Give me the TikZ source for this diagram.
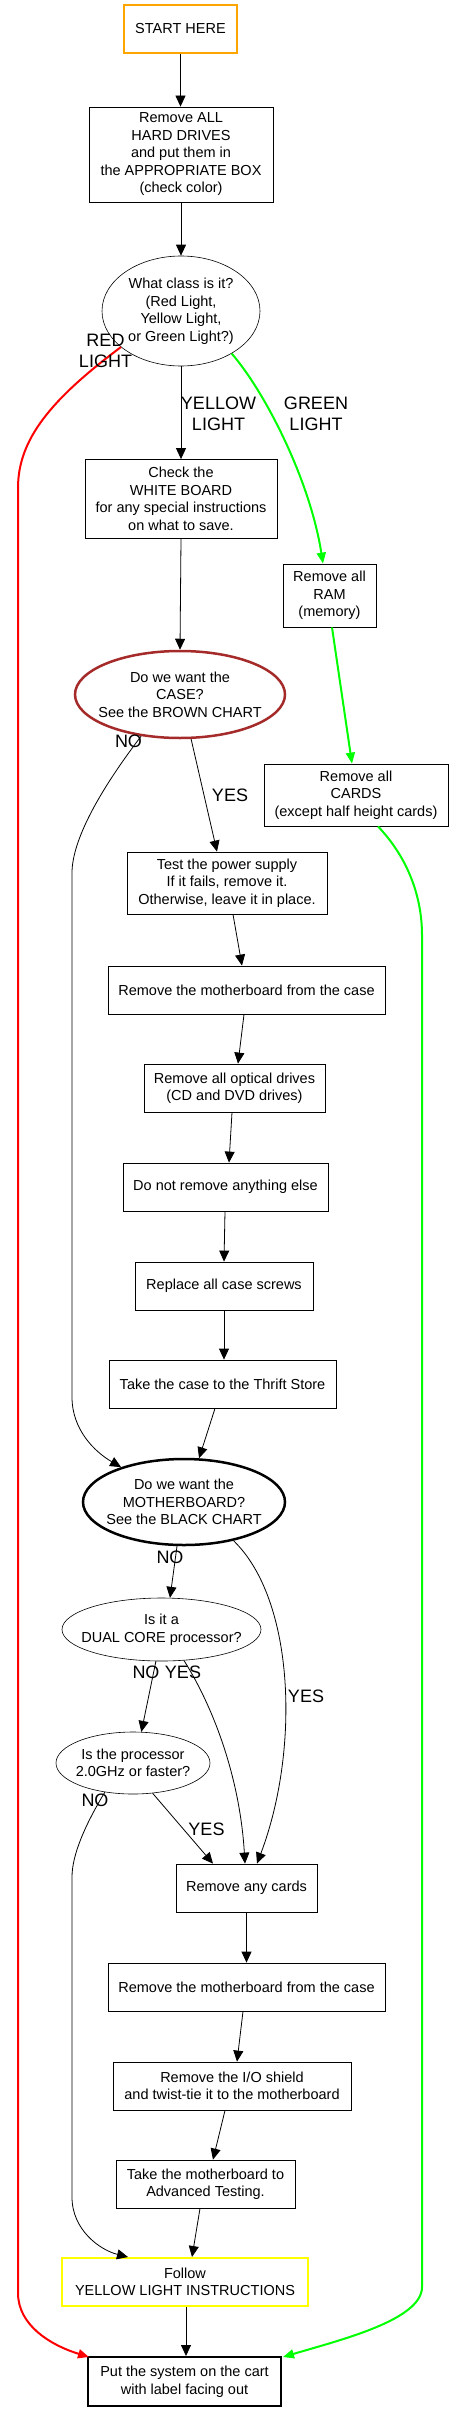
\documentclass[tikz,border=0pt]{standalone}
\usepackage{fontspec}
\setmainfont{Liberation Sans}
\usetikzlibrary{shapes.geometric,arrows.meta,calc}
\definecolor{gvorange}{HTML}{FFA500}
\definecolor{gvbrown}{HTML}{A52A2A}
\definecolor{gvgreen}{HTML}{00FF00}
\definecolor{gvyellow}{HTML}{FFFF00}
\definecolor{gvred}{HTML}{FF0000}
\newcommand\myNodeFont{\fontsize{14.5}{17.5}\selectfont}
\newcommand\myLabFont{\fontsize{18}{21}\selectfont}
\begin{document}
\begin{tikzpicture}[x=1pt,y=-1pt,
  box/.style={draw, line width=0.8pt, rectangle, inner sep=0pt, align=center, font=\myNodeFont},
  ell/.style={draw, ellipse, line width=0.6pt, inner sep=0pt},
  txt/.style={align=center, font=\myNodeFont, inner sep=0pt},
  elab/.style={align=center, font=\myLabFont, inner sep=0pt},
  arr/.style={line width=0.8pt, -{Triangle[length=11pt,width=10pt]}},
  redarr/.style={draw=gvred, line width=2pt, -{Triangle[length=11pt,width=9pt]}},
  greenarr/.style={draw=gvgreen, line width=2pt, -{Triangle[length=11pt,width=9pt]}}]
\useasboundingbox (0,0) rectangle (453,2411);

% nodes
\node[box, draw=gvorange, line width=2pt, minimum width=113pt, minimum height=48pt] (start) at (180.5,29) {START HERE};
\node[box, minimum width=184pt, minimum height=95pt] (hd) at (181,154.5) {Remove ALL\\HARD DRIVES\\and put them in\\the APPROPRIATE BOX\\(check color)};
\node[ell, minimum width=158pt, minimum height=110pt] (class) at (181,311) {};
\node[txt] (class-t) at (class) {What class is it?\\(Red Light,\\Yellow Light,\\or Green Light?)};
\node[box, minimum width=192pt, minimum height=79pt] (white) at (181,499) {Check the\\WHITE BOARD\\for any special instructions\\on what to save.};
\node[ell, draw=gvbrown, line width=2.5pt, minimum width=210pt, minimum height=87pt] (case) at (180,694.5) {};
\node[txt] (case-t) at (case) {Do we want the\\CASE?\\See the BROWN CHART};
\node[box, minimum width=93pt, minimum height=63pt] (ram) at (329.5,595.5) {Remove all\\RAM\\(memory)};
\node[box, minimum width=184pt, minimum height=62pt] (cards) at (356,795) {Remove all\\CARDS\\(except half height cards)};
\node[box, minimum width=200pt, minimum height=62pt] (test) at (227,883) {Test the power supply\\If it fails, remove it.\\Otherwise, leave it in place.};
\node[box, minimum width=277pt, minimum height=48pt] (mobo1) at (246.5,990) {Remove the motherboard from the case};
\node[box, minimum width=181pt, minimum height=48pt] (optical) at (234.5,1088) {Remove all optical drives\\(CD and DVD drives)};
\node[box, minimum width=205pt, minimum height=48pt] (donot) at (225.5,1187) {Do not remove anything else};
\node[box, minimum width=178pt, minimum height=48pt] (screws) at (224,1286) {Replace all case screws};
\node[box, minimum width=227pt, minimum height=48pt] (thrift) at (222.5,1384) {Take the case to the Thrift Store};
\node[ell, line width=2.5pt, minimum width=202pt, minimum height=86pt] (mb) at (184,1502) {};
\node[txt] (mb-t) at (mb) {Do we want the\\MOTHERBOARD?\\See the BLACK CHART};
\node[ell, minimum width=199pt, minimum height=63pt] (dual) at (161.5,1629.5) {};
\node[txt] (dual-t) at (dual) {Is it a\\DUAL CORE processor?};
\node[ell, minimum width=154pt, minimum height=62pt] (ghz) at (133,1763) {};
\node[txt] (ghz-t) at (ghz) {Is the processor\\2.0GHz or faster?};
\node[box, minimum width=141pt, minimum height=48pt] (anycards) at (246.5,1888) {Remove any cards};
\node[box, minimum width=277pt, minimum height=48pt] (mobo2) at (246.5,1987) {Remove the motherboard from the case};
\node[box, minimum width=238pt, minimum height=48pt] (io) at (232,2086) {Remove the I/O shield\\and twist-tie it to the motherboard};
\node[box, minimum width=179pt, minimum height=48pt] (takemb) at (205.5,2184) {Take the motherboard to\\Advanced Testing.};
\node[box, draw=gvyellow, line width=2pt, minimum width=246pt, minimum height=48pt] (follow) at (185,2282) {Follow\\YELLOW LIGHT INSTRUCTIONS};
\node[box, line width=2pt, minimum width=193pt, minimum height=49pt] (put) at (184.5,2381.5) {Put the system on the cart\\with label facing out};

% black edges
\draw[arr] (start.south) -- (start.south |- hd.north);
\draw[arr] (hd.south) -- (class.north);
\draw[arr] (class.south) -- (white.north);
\draw[arr] (white.south) -- (case.north);
\draw[arr] (case.-76) -- ($(test.north)+(-10,0)$);
\draw[arr] ($(test.south)+(6,0)$) -- ($(mobo1.north)+(-4.5,0)$);
\draw[arr] ($(mobo1.south)+(-2.5,0)$) -- ($(optical.north)+(3.5,0)$);
\draw[arr] ($(optical.south)+(-2.5,0)$) -- ($(donot.north)+(3.5,0)$);
\draw[arr] ($(donot.south)+(-0.5,0)$) -- (screws.north);
\draw[arr] (screws.south) -- (screws.south |- thrift.north);
\draw[arr] ($(thrift.south)+(-7.5,0)$) -- (mb.71);
\draw[arr] (case.227) .. controls (100,790) and (72,840) .. (72,873) -- (72,1397) .. controls (72,1430) and (95,1452) .. (mb.151);
\draw[arr] (mb.261) -- (dual.75);
\draw[arr] (mb.-38) .. controls (295,1600) and (300,1750) .. ($(anycards.north)+(10.5,0)$);
\draw[arr] (dual.260) -- (ghz.75);
\draw[arr] (dual.-54) .. controls (215,1710) and (240,1780) .. ($(anycards.north)+(-1.5,0)$);
\draw[arr] (ghz.-57) -- ($(anycards.north)+(-33.5,0)$);
\draw[arr] (ghz.226) .. controls (85,1825) and (72,1855) .. (72,1877) -- (72,2197) .. controls (72,2230) and (100,2250) .. ($(follow.north)+(-57,0)$);
\draw[arr] (anycards.south) -- (mobo2.north);
\draw[arr] ($(mobo2.south)+(-3.5,0)$) -- ($(io.north)+(5,0)$);
\draw[arr] ($(io.south)+(-7,0)$) -- ($(takemb.north)+(7.5,0)$);
\draw[arr] ($(takemb.south)+(-5.5,0)$) -- ($(follow.north)+(7,0)$);
\draw[arr] ($(follow.south)+(1,0)$) -- ($(put.north)+(1.5,0)$);

% coloured edges
\draw[redarr] (class.211) .. controls (50,400) and (18,440) .. (18,488) -- (18,2293) .. controls (18,2325) and (50,2345) .. ($(put.north west)+(2,1)$);
\draw[greenarr] (class.-40) .. controls (265,392) and (310,480) .. ($(ram.north)+(-6.5,0)$);
\draw[greenarr] ($(ram.south)+(2.5,0)$) -- ($(cards.north)+(-4,0)$);
\draw[greenarr] ($(cards.south)+(22,0)$) .. controls (410,860) and (422,900) .. (422,935) -- (422,2287) .. controls (422,2320) and (340,2340) .. ($(put.north east)+(1,1)$);

% edge labels
\node[elab] (l-red) at (105.5,351) {RED\\LIGHT};
\node[elab] (l-yellow) at (218.5,414) {YELLOW\\LIGHT};
\node[elab] (l-green) at (316,414) {GREEN\\LIGHT};
\node[elab] (l-caseno) at (128.5,741) {NO};
\node[elab] (l-caseyes) at (230,795) {YES};
\node[elab] (l-mbno) at (170,1557) {NO};
\node[elab] (l-mbyes) at (306,1696) {YES};
\node[elab] (l-dualno) at (146,1672) {NO};
\node[elab] (l-dualyes) at (183,1672) {YES};
\node[elab] (l-ghzno) at (95,1800) {NO};
\node[elab] (l-ghzyes) at (206.5,1829) {YES};
\end{tikzpicture}
\end{document}
